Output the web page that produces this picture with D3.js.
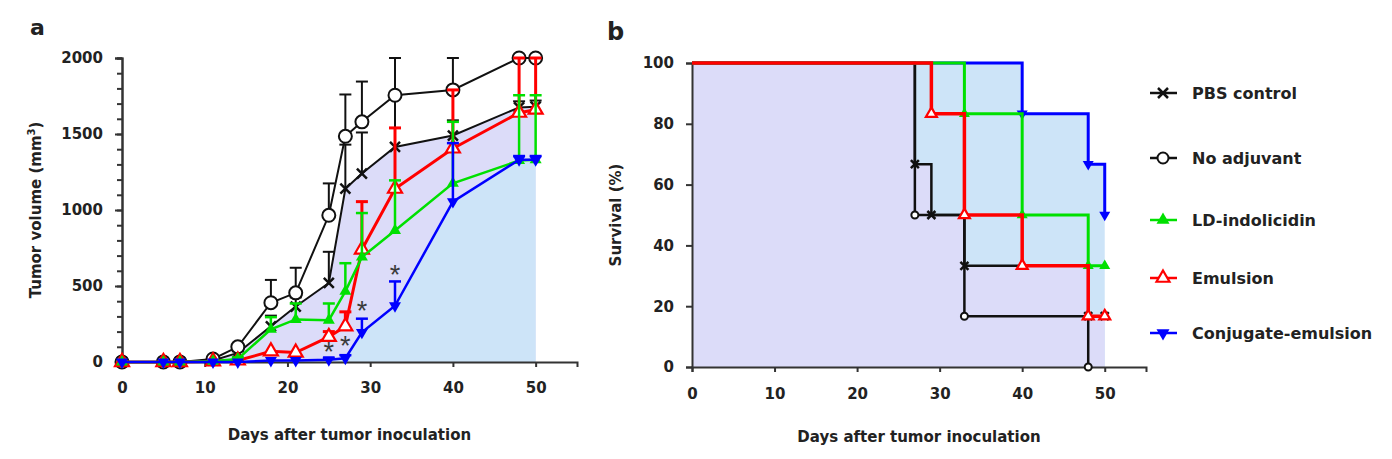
<!DOCTYPE html>
<html>
<head>
<meta charset="utf-8">
<script src="https://cdn.jsdelivr.net/npm/d3@7"></script>
<style>
  body { margin: 0; background: #fff; }
  svg text { font-family: "DejaVu Sans", sans-serif; font-weight: bold; fill: #222; }
</style>
</head>
<body>
<div id="chart"></div>
<script>
// ---------- data, panel a (tumor volume, mm3) ----------
const days = [0, 5, 7, 11, 14, 18, 21, 25, 27, 29, 33, 40, 48, 50];
const pbsVol = [0, 0, 0, 10, 60, 235, 365, 520, 1140, 1240, 1415, 1490, 1675, 1680];
const pbsErr = [0, 0, 0, 0, 10, 70, 60, 205, 290, 270, 340, 100, 40, 40];
const noAdjVol = [0, 0, 0, 20, 100, 390, 455, 965, 1485, 1580, 1755, 1790, 2000, 2000];
const noAdjErr = [0, 0, 0, 0, 15, 150, 165, 210, 275, 265, 245, 210, 0, 0];
const ldVol = [0, 0, 0, 5, 20, 215, 280, 275, 465, 690, 865, 1175, 1325, 1330];
const ldErr = [0, 0, 0, 0, 10, 80, 105, 110, 185, 290, 330, 405, 430, 425];
const emulVol = [0, 0, 0, 5, 10, 70, 62, 165, 235, 740, 1140, 1405, 1640, 1660];
const emulErr = [0, 0, 0, 0, 0, 0, 0, 35, 95, 315, 400, 385, 360, 340];
const conjVol = [0, 0, 0, 0, 0, 10, 10, 15, 25, 195, 370, 1055, 1330, 1330];
const conjErr = [0, 0, 0, 0, 0, 0, 0, 10, 20, 90, 160, 385, 25, 25];

// significance stars (day, volume where the star sits)
const starDays = [25, 27, 29, 33];
const starVols = [90, 130, 360, 600];

const volTicks = [0, 500, 1000, 1500, 2000];
const dayTicks = [0, 10, 20, 30, 40, 50];

// ---------- data, panel b (survival, %) ----------
const pbsSurv = [[0, 100], [27, 66.7], [29, 50], [33, 33.3], [48, 16.7], [50, 16.7]];
const noAdjSurv = [[0, 100], [27, 50], [33, 16.7], [48, 0]];
const ldSurv = [[0, 100], [33, 83.3], [40, 50], [48, 33.3], [50, 33.3]];
const emulSurv = [[0, 100], [29, 83.3], [33, 50], [40, 33.3], [48, 16.7], [50, 16.7]];
const conjSurv = [[0, 100], [40, 83.3], [48, 66.7], [50, 50]];

const survTicks = [0, 20, 40, 60, 80, 100];
const groupNames = ["PBS control", "No adjuvant", "LD-indolicidin", "Emulsion", "Conjugate-emulsion"];

// colours
const lavender = "#dcdcf9";
const lightBlue = "#cde4f8";
const cBlack = "#111";
const cGreen = "#00e000";
const cRed = "#ff0000";
const cBlue = "#0000ff";

const svg = d3.select("#chart").append("svg")
    .attr("width", 1392)
    .attr("height", 459);

// draws one marker of a given kind at (x, y)
function drawMarker(g, kind, x, y, s) {
    const area = Math.sqrt(3) / 4 * (2 * s) * (2 * s);
    if (kind === "x") {
        g.append("path")
            .attr("d", `M${x - s},${y - s}L${x + s},${y + s}M${x - s},${y + s}L${x + s},${y - s}`)
            .attr("stroke", cBlack).attr("stroke-width", 2.5);
    } else if (kind === "circle") {
        g.append("circle").attr("cx", x).attr("cy", y).attr("r", s)
            .attr("fill", "#fff").attr("stroke", cBlack).attr("stroke-width", 2);
    } else if (kind === "triOpen") {
        g.append("path").attr("d", d3.symbol(d3.symbolTriangle, area)())
            .attr("transform", `translate(${x},${y})`)
            .attr("fill", "#fff").attr("stroke", cRed).attr("stroke-width", 2.2);
    } else if (kind === "tri") {
        g.append("path").attr("d", d3.symbol(d3.symbolTriangle, area)())
            .attr("transform", `translate(${x},${y})`)
            .attr("fill", cGreen);
    } else if (kind === "triDown") {
        g.append("path").attr("d", d3.symbol(d3.symbolTriangle, area)())
            .attr("transform", `translate(${x},${y}) rotate(180)`)
            .attr("fill", cBlue);
    }
}

// ========== Panel a ==========
const xA = d3.scaleLinear().domain([0, 55]).range([122, 577]);
const yA = d3.scaleLinear().domain([0, 2000]).range([362, 58]);

const gA = svg.append("g");

// shaded areas under PBS control and conjugate-emulsion
const areaA = d3.area()
    .x((d, i) => xA(days[i]))
    .y0(yA(0))
    .y1(d => yA(d));
gA.append("path").datum(pbsVol).attr("d", areaA).attr("fill", lavender);
gA.append("path").datum(conjVol).attr("d", areaA).attr("fill", lightBlue);

// axes (minor ticks every 100, labelled every 500)
gA.append("g").attr("transform", `translate(${xA(0)},0)`)
    .call(d3.axisLeft(yA).tickValues(d3.range(0, 2001, 100)).tickFormat(() => "").tickSize(5));
gA.append("g").attr("transform", `translate(${xA(0)},0)`)
    .call(d3.axisLeft(yA).tickValues(volTicks).tickFormat(d3.format("d")).tickSize(7).tickPadding(12));
gA.append("g").attr("transform", `translate(0,${yA(0)})`)
    .call(d3.axisBottom(xA).tickValues(dayTicks).tickSize(5).tickPadding(15));

const seriesA = [
    { vals: pbsVol, err: pbsErr, color: cBlack, width: 2, kind: "x", size: 5 },
    { vals: noAdjVol, err: noAdjErr, color: cBlack, width: 2, kind: "circle", size: 6.5 },
    { vals: emulVol, err: emulErr, color: cRed, width: 3, kind: "triOpen", size: 7 },
    { vals: ldVol, err: ldErr, color: cGreen, width: 2.5, kind: "tri", size: 6 },
    { vals: conjVol, err: conjErr, color: cBlue, width: 2.5, kind: "triDown", size: 6 }
];

const lineA = d3.line().x((d, i) => xA(days[i])).y(d => yA(d));

seriesA.forEach(s => {
    const g = gA.append("g");
    // error bars (upper only)
    s.vals.forEach((v, i) => {
        if (s.err[i] <= 0) return;
        const x = xA(days[i]);
        const top = yA(v + s.err[i]);
        g.append("line").attr("x1", x).attr("x2", x).attr("y1", yA(v)).attr("y2", top)
            .attr("stroke", s.color).attr("stroke-width", s.width);
        g.append("line").attr("x1", x - 6).attr("x2", x + 6).attr("y1", top).attr("y2", top)
            .attr("stroke", s.color).attr("stroke-width", s.width);
    });
    g.append("path").datum(s.vals).attr("d", lineA)
        .attr("fill", "none").attr("stroke", s.color).attr("stroke-width", s.width);
    s.vals.forEach((v, i) => drawMarker(g, s.kind, xA(days[i]), yA(v), s.size));
});

// stars
starDays.forEach((d, i) => {
    gA.append("text")
        .attr("x", xA(d)).attr("y", yA(starVols[i]) + 13)
        .attr("text-anchor", "middle")
        .style("font-family", "Liberation Sans, sans-serif")
        .style("font-weight", "normal")
        .style("font-size", "27px")
        .style("fill", "#3a3a3a")
        .text("*");
});

// axis titles
gA.append("text")
    .attr("x", (xA(0) + xA(55)) / 2).attr("y", 440)
    .attr("text-anchor", "middle").style("font-size", "15px")
    .text("Days after tumor inoculation");

const yTitleA = gA.append("text")
    .attr("transform", `translate(41,${(yA(0) + yA(2000)) / 2}) rotate(-90)`)
    .attr("text-anchor", "middle").style("font-size", "15px");
yTitleA.append("tspan").text("Tumor volume (mm");
yTitleA.append("tspan").attr("dy", -6).style("font-size", "10px").text("3");
yTitleA.append("tspan").attr("dy", 6).text(")");

gA.append("text").attr("x", 30).attr("y", 35).style("font-size", "22px").text("a");

// ========== Panel b ==========
const xB = d3.scaleLinear().domain([0, 55]).range([692, 1146]);
const yB = d3.scaleLinear().domain([0, 100]).range([367, 63]);

const gB = svg.append("g");

const stepArea = d3.area().curve(d3.curveStepAfter)
    .x(d => xB(d[0])).y0(yB(0)).y1(d => yB(d[1]));
gB.append("path").datum(conjSurv).attr("d", stepArea).attr("fill", lightBlue);
gB.append("path").datum(pbsSurv).attr("d", stepArea).attr("fill", lavender);

gB.append("g").attr("transform", `translate(${xB(0)},0)`)
    .call(d3.axisLeft(yB).tickValues(survTicks).tickSize(6).tickPadding(12));
gB.append("g").attr("transform", `translate(0,${yB(0)})`)
    .call(d3.axisBottom(xB).tickValues(dayTicks).tickSize(5).tickPadding(16));

const seriesB = [
    { pts: pbsSurv, color: cBlack, width: 2.5, kind: "x", size: 4 },
    { pts: noAdjSurv, color: cBlack, width: 2.5, kind: "circle", size: 3.5 },
    { pts: conjSurv, color: cBlue, width: 3, kind: "triDown", size: 5.5 },
    { pts: ldSurv, color: cGreen, width: 3, kind: "tri", size: 5.5 },
    { pts: emulSurv, color: cRed, width: 3.5, kind: "triOpen", size: 5.5 }
];

const stepLine = d3.line().curve(d3.curveStepAfter)
    .x(d => xB(d[0])).y(d => yB(d[1]));

seriesB.forEach(s => {
    const g = gB.append("g");
    g.append("path").datum(s.pts).attr("d", stepLine)
        .attr("fill", "none").attr("stroke", s.color).attr("stroke-width", s.width);
    s.pts.slice(1).forEach(p => drawMarker(g, s.kind, xB(p[0]), yB(p[1]), s.size));
});

gB.append("text")
    .attr("x", (xB(0) + xB(55)) / 2).attr("y", 442)
    .attr("text-anchor", "middle").style("font-size", "15px")
    .text("Days after tumor inoculation");

gB.append("text")
    .attr("transform", `translate(621,${(yB(0) + yB(100)) / 2}) rotate(-90)`)
    .attr("text-anchor", "middle").style("font-size", "15px")
    .text("Survival (%)");

gB.append("text").attr("x", 607).attr("y", 40).style("font-size", "24px").text("b");

// legend
const legendKinds = [
    { color: cBlack, kind: "x", size: 5 },
    { color: cBlack, kind: "circle", size: 5.5 },
    { color: cGreen, kind: "tri", size: 6.5 },
    { color: cRed, kind: "triOpen", size: 6.5 },
    { color: cBlue, kind: "triDown", size: 6.5 }
];
const legendY = [93, 158, 220, 278, 333];

groupNames.forEach((name, i) => {
    const g = gB.append("g");
    const y = legendY[i];
    const k = legendKinds[i];
    g.append("line").attr("x1", 1150).attr("x2", 1177).attr("y1", y).attr("y2", y)
        .attr("stroke", k.color).attr("stroke-width", 2.5);
    drawMarker(g, k.kind, 1163, y, k.size);
    g.append("text").attr("x", 1192).attr("y", y + 6)
        .style("font-size", "16px").text(name);
});

// axis styling
svg.selectAll(".domain").attr("stroke", "#333").attr("stroke-width", 2);
svg.selectAll(".tick line").attr("stroke", "#333").attr("stroke-width", 2);
svg.selectAll(".tick text")
    .style("font-family", "DejaVu Sans, sans-serif")
    .style("font-weight", "bold")
    .style("font-size", "15px")
    .style("fill", "#222");
</script>
</body>
</html>
